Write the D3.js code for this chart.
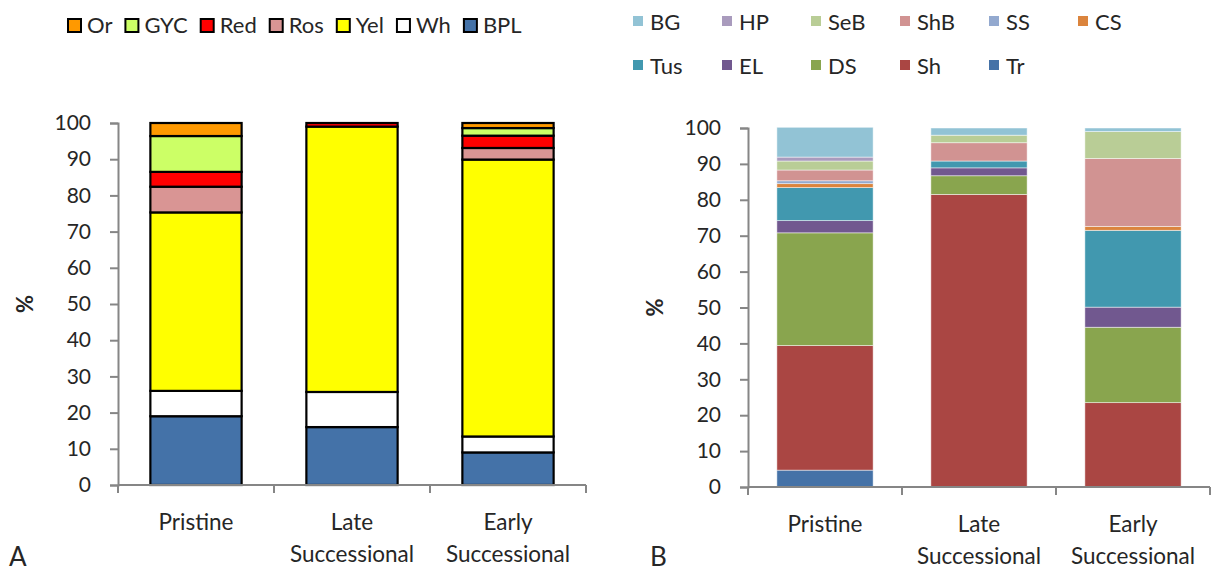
<!DOCTYPE html>
<html lang="en">
<head>
<meta charset="UTF-8">
<title>Stacked composition</title>
<script src="https://d3js.org/d3.v7.min.js"></script>
<style>
    body { margin: 0; background: #fff; }
    text { font-family: Lato, "Open Sans", sans-serif; fill: #262626; }
    .axis path, .axis line { stroke: #868686; stroke-width: 2px; }
</style>
</head>
<body>
<svg id="chart" width="1224" height="571"></svg>
<script>
    // categories shared by both panels
    const sites = ["Pristine", "Late Successional", "Early Successional"];
    const yTicks = [0, 10, 20, 30, 40, 50, 60, 70, 80, 90, 100];

    // panel A series, bottom to top
    const seriesA = ["BPL", "Wh", "Yel", "Ros", "Red", "GYC", "Or"];
    const BPL = [19.0, 16.0, 9.0];
    const Wh  = [7.0, 9.7, 4.4];
    const Yel = [49.3, 73.3, 76.5];
    const Ros = [7.1, 0, 3.2];
    const Red = [4.1, 1.0, 3.4];
    const GYC = [9.9, 0, 2.1];
    const Or  = [3.6, 0, 1.4];
    const colorsA = ["#4472a8", "#ffffff", "#ffff00", "#d99594", "#ff0000", "#ccff66", "#ff9900"];

    // panel B series, bottom to top
    const seriesB = ["Tr", "Sh", "DS", "EL", "Tus", "CS", "SS", "ShB", "SeB", "HP", "BG"];
    const Tr  = [4.7, 0, 0];
    const Sh  = [34.7, 81.5, 23.5];
    const DS  = [31.4, 5.2, 21.0];
    const EL  = [3.4, 2.2, 5.6];
    const Tus = [9.2, 1.9, 21.4];
    const CS  = [1.1, 0, 1.1];
    const SS  = [0.8, 0, 0];
    const ShB = [3.0, 5.1, 18.9];
    const SeB = [2.5, 2.1, 7.5];
    const HP  = [1.1, 0, 0];
    const BG  = [8.3, 2.0, 1.0];
    const colorsB = ["#4572a7", "#aa4643", "#89a54e", "#71588f", "#4198af", "#db843d",
                     "#93a9cf", "#d19392", "#b9cd96", "#a99bbd", "#92c3d5"];

    // legend order as shown in the picture
    const legendA = ["Or", "GYC", "Red", "Ros", "Yel", "Wh", "BPL"];
    const legendB = [["BG", "HP", "SeB", "ShB", "SS", "CS"], ["Tus", "EL", "DS", "Sh", "Tr"]];

    const valuesA = {BPL, Wh, Yel, Ros, Red, GYC, Or};
    const valuesB = {Tr, Sh, DS, EL, Tus, CS, SS, ShB, SeB, HP, BG};

    const svg = d3.select("#chart");

    function toRows(keys, values) {
        return sites.map((s, i) => {
            let row = {site: s};
            keys.forEach(k => row[k] = values[k][i]);
            return row;
        });
    }

    function panel(opts) {
        let g = svg.append("g");
        let x = d3.scaleBand().domain(sites).range([opts.x0, opts.x1]);
        let y = d3.scaleLinear().domain([0, 100]).range([opts.y0, opts.y1]);
        let color = d3.scaleOrdinal().domain(opts.keys).range(opts.colors);

        let stacked = d3.stack().keys(opts.keys)(toRows(opts.keys, opts.values));
        let barW = x.bandwidth() * opts.barFrac;

        g.selectAll(".layer")
            .data(stacked)
            .join("g")
            .attr("fill", d => color(d.key))
            .selectAll("rect")
            .data(d => d.filter(p => p[1] - p[0] > 0))
            .join("rect")
            .attr("x", d => x(d.data.site) + (x.bandwidth() - barW) / 2)
            .attr("width", barW)
            .attr("y", d => y(d[1]))
            .attr("height", d => y(d[0]) - y(d[1]))
            .attr("stroke", opts.stroke)
            .attr("stroke-width", opts.strokeW)
            .attr("stroke-opacity", opts.strokeOp);

        // y axis
        let yAxis = g.append("g")
            .attr("class", "axis")
            .attr("transform", `translate(${opts.x0},0)`)
            .call(d3.axisLeft(y).tickValues(yTicks).tickSize(8).tickPadding(19).tickSizeOuter(8));
        yAxis.selectAll("text").style("font-size", "21px").style("fill", "#262626");

        // x axis with ticks on category boundaries
        let xAxis = g.append("g")
            .attr("class", "axis")
            .attr("transform", `translate(0,${opts.y0})`);
        xAxis.append("line")
            .attr("x1", opts.x0).attr("x2", opts.x1);
        let bounds = sites.map(s => x(s)).concat([opts.x1]);
        xAxis.selectAll(".bt")
            .data(bounds)
            .join("line")
            .attr("x1", d => d).attr("x2", d => d)
            .attr("y1", 0).attr("y2", 8);

        let labels = xAxis.selectAll(".cat")
            .data(sites)
            .join("text")
            .attr("text-anchor", "middle")
            .attr("x", d => x(d) + x.bandwidth() / 2)
            .attr("y", 45)
            .style("font-size", "22.5px");
        labels.each(function (d) {
            let words = d.split(" ");
            let t = d3.select(this);
            words.forEach((w, i) => {
                t.append("tspan")
                    .attr("x", x(d) + x.bandwidth() / 2)
                    .attr("dy", i === 0 ? 0 : 32)
                    .text(w);
            });
        });

        // axis title
        g.append("text")
            .attr("transform", `translate(${opts.titleX},${(opts.y0 + opts.y1) / 2}) rotate(-90)`)
            .attr("text-anchor", "middle")
            .attr("dy", "0.35em")
            .style("font-size", "22px")
            .style("font-weight", "bold")
            .text("%");

        // panel letter
        g.append("text")
            .attr("x", opts.letterX)
            .attr("y", 566)
            .style("font-size", "26px")
            .text(opts.letter);

        return color;
    }

    let colorA = panel({
        x0: 118, x1: 586, y0: 485, y1: 123,
        keys: seriesA, values: valuesA, colors: colorsA,
        barFrac: 0.585, stroke: "#000", strokeW: 2.2, strokeOp: 1,
        titleX: 25, letter: "A", letterX: 9
    });

    let colorB = panel({
        x0: 748, x1: 1210, y0: 487, y1: 128,
        keys: seriesB, values: valuesB, colors: colorsB,
        barFrac: 0.625, stroke: "#fff", strokeW: 0.8, strokeOp: 0.6,
        titleX: 655, letter: "B", letterX: 650
    });

    // legend A: single flowing row
    let legA = svg.append("g").attr("transform", "translate(68,0)");
    let cx = 0;
    legendA.forEach(k => {
        let item = legA.append("g").attr("transform", `translate(${cx},0)`);
        item.append("rect")
            .attr("x", 0).attr("y", 19).attr("width", 13).attr("height", 13)
            .attr("fill", colorA(k)).attr("stroke", "#000").attr("stroke-width", 2);
        let t = item.append("text")
            .attr("x", 19).attr("y", 33)
            .style("font-size", "22px")
            .text(k);
        cx += 19 + t.node().getComputedTextLength() + 13;
    });

    // legend B: grid of two rows
    let legB = svg.append("g").attr("transform", "translate(633,0)");
    legendB.forEach((row, r) => {
        row.forEach((k, c) => {
            let item = legB.append("g").attr("transform", `translate(${c * 89},${r * 44})`);
            item.append("rect")
                .attr("x", 0).attr("y", 16).attr("width", 10).attr("height", 10)
                .attr("fill", colorB(k));
            item.append("text")
                .attr("x", 17).attr("y", 30)
                .style("font-size", "22px")
                .text(k);
        });
    });
</script>
</body>
</html>
